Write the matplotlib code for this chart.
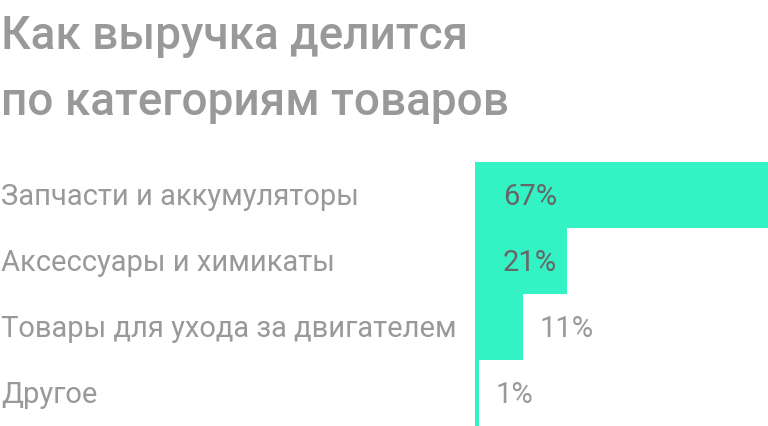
import matplotlib
matplotlib.use("Agg")
import matplotlib.pyplot as plt

plt.rcParams['font.family'] = ['Roboto', 'DejaVu Sans']

# ---- data ----
categories = ["Запчасти и аккумуляторы", "Аксессуары и химикаты",
              "Товары для ухода за двигателем", "Другое"]
shares = [67, 21, 11, 1]
title = "Как выручка делится\nпо категориям товаров"

bar_color = "#33f2c4"
label_gray = "#999999"
inside_gray = "#666666"

fig = plt.figure(figsize=(7.68, 4.26), dpi=100)
ax = fig.add_axes([475 / 768, 0, 293 / 768, 264 / 426])

y = list(range(len(categories)))
ax.barh(y, shares, height=1.0, color=bar_color, linewidth=0)
ax.set_xlim(0, 67)
ax.set_ylim(len(categories) - 0.5, -0.5)
ax.axis("off")

# put the baseline half a cap height below the bar centre
dy = -7

for i, (cat, v) in enumerate(zip(categories, shares)):
    # category name at the left edge of the figure
    ax.annotate(cat, xy=(0, i), xycoords=("figure fraction", "data"),
                xytext=(1, dy), textcoords="offset points",
                ha="left", va="baseline", fontsize=21, color=label_gray)
    if v >= 20:
        ax.annotate(f"{v}%", xy=(0, i), xytext=(20, dy), textcoords="offset points",
                    ha="left", va="baseline", fontsize=21, color=inside_gray)
    else:
        ax.annotate(f"{v}%", xy=(v, i), xytext=(11.5, dy), textcoords="offset points",
                    ha="left", va="baseline", fontsize=21, color=label_gray)

fig.text(1 / 768, 1 - 14 / 426, title, ha="left", va="top", fontsize=33,
         fontweight="medium", color=label_gray, linespacing=1.62)

fig.savefig("out.png", dpi=100)
